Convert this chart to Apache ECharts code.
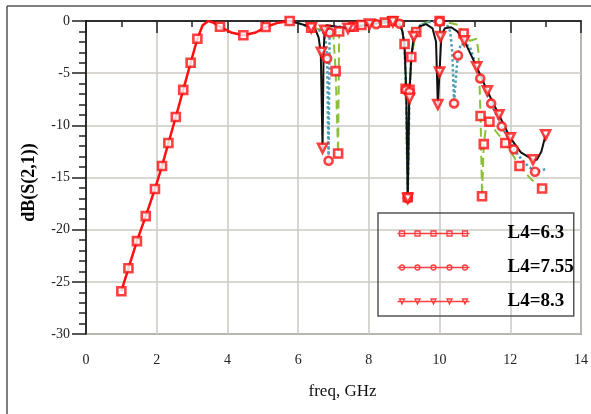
<!DOCTYPE html>
<html>
<head>
<meta charset="utf-8">
<script src="https://cdn.jsdelivr.net/npm/echarts@6/dist/echarts.min.js"></script>
<style>
    html, body { margin: 0; padding: 0; background: #fff; }
    #chart { width: 591px; height: 414px; }
</style>
</head>
<body>
<div id="chart"></div>
<script>
// shared passband part (1 - 5.76 GHz)
var commonCurve = [[1.0, -25.9], [1.2, -23.7], [1.44, -21.1], [1.69, -18.7], [1.95, -16.1], [2.15, -13.9],
    [2.33, -11.7], [2.54, -9.2], [2.75, -6.6], [2.96, -4.0], [3.15, -1.7], [3.3, -0.4], [3.46, 0], [3.6, -0.15],
    [3.79, -0.55], [4.1, -1.1], [4.45, -1.37], [4.8, -1.1], [5.08, -0.58], [5.4, -0.2], [5.76, 0]];
var commonMarks = [[1.0, -25.9], [1.2, -23.7], [1.44, -21.1], [1.69, -18.7], [1.95, -16.1], [2.15, -13.9],
    [2.33, -11.7], [2.54, -9.2], [2.75, -6.6], [2.96, -4.0], [3.15, -1.7], [3.79, -0.55], [4.45, -1.37],
    [5.08, -0.58], [5.76, 0]];

// L4 = 6.3 (green dashed, squares)
var curve63 = [[5.76, 0], [6.0, -0.2], [6.37, -0.65], [6.6, -0.8], [6.9, -1.0], [7.0, -1.5], [7.06, -4.8],
    [7.13, -12.7], [7.16, -1.0], [7.25, -0.6], [7.57, -0.55], [7.79, -0.38], [8.45, -0.16], [8.68, 0],
    [8.87, -0.3], [8.95, -1.0], [9.01, -2.2], [9.04, -6.5], [9.1, -16.9], [9.15, -6.8], [9.2, -3.45],
    [9.34, -1.05], [9.5, -0.3], [9.75, 0], [10.0, 0], [10.3, -0.2], [10.56, -0.4], [10.68, -1.2],
    [10.85, -1.9], [11.05, -1.7], [11.1, -3.0], [11.16, -9.1], [11.2, -16.8], [11.25, -11.8], [11.32, -10.0],
    [11.41, -9.65], [11.6, -10.6], [11.86, -11.7], [12.26, -13.9], [12.6, -15.2], [12.9, -16.05]];
var marks63 = [[6.37, -0.65], [7.06, -4.8], [7.13, -12.7], [7.16, -1.0], [7.57, -0.55], [7.79, -0.38],
    [8.45, -0.16], [8.68, 0], [9.01, -2.2], [9.04, -6.5], [9.1, -16.9], [9.15, -6.6], [9.2, -3.45],
    [9.34, -1.05], [10.0, 0], [10.68, -1.2], [11.16, -9.1], [11.2, -16.8], [11.25, -11.8], [11.41, -9.65],
    [11.86, -11.7], [12.26, -13.9], [12.9, -16.05]];

// L4 = 7.55 (blue dotted, circles)
var curve755 = [[5.76, 0], [6.0, -0.2], [6.37, -0.65], [6.55, -0.85], [6.7, -1.0], [6.78, -2.0], [6.82, -3.6],
    [6.86, -13.6], [6.89, -1.1], [6.95, -0.6], [7.2, -0.55], [7.6, -0.5], [8.2, -0.22], [8.6, -0.1],
    [8.87, -0.26], [8.95, -1.0], [9.01, -2.3], [9.05, -6.6], [9.1, -17.0], [9.15, -6.8], [9.2, -3.4],
    [9.3, -1.2], [9.45, -0.4], [9.7, -0.1], [10.0, -0.05], [10.2, -0.3], [10.3, -1.0], [10.36, -3.0],
    [10.41, -7.9], [10.47, -5.0], [10.52, -3.3], [10.6, -2.2], [10.85, -2.4], [11.15, -5.5], [11.46, -7.9],
    [11.76, -10.1], [12.1, -12.3], [12.4, -13.6], [12.7, -14.45], [13.0, -14.2]];
var marks755 = [[6.82, -3.6], [6.86, -13.4], [6.89, -1.1], [7.5, -0.55], [8.21, -0.3], [8.87, -0.26],
    [9.05, -6.6], [9.1, -17.0], [9.15, -6.8], [10.0, -0.05], [10.41, -7.9], [10.52, -3.3], [11.15, -5.5],
    [11.46, -7.9], [11.76, -10.1], [12.1, -12.3], [12.7, -14.45]];

// L4 = 8.3 (black solid, triangles)
var curve83 = [[5.76, 0], [6.0, -0.2], [6.2, -0.4], [6.37, -0.65], [6.5, -0.9], [6.58, -1.6], [6.64, -3.0],
    [6.69, -12.3], [6.72, -3.0], [6.75, -0.9], [6.8, -0.4], [7.0, -0.5], [7.4, -0.7], [7.8, -0.45],
    [8.2, -0.25], [8.6, -0.07], [8.87, -0.3], [8.95, -1.0], [9.01, -2.5], [9.06, -6.8], [9.1, -17.2],
    [9.14, -7.4], [9.2, -3.5], [9.27, -1.5], [9.34, -1.0], [9.45, -0.5], [9.62, -0.3], [9.8, -0.7],
    [9.9, -2.0], [9.95, -8.0], [10.0, -4.9], [10.05, -1.4], [10.15, -0.7], [10.33, -0.6], [10.5, -1.0],
    [10.7, -1.9], [11.05, -4.4], [11.35, -6.7], [11.68, -9.0], [12.0, -11.2], [12.3, -12.6], [12.64, -13.3],
    [12.75, -13.3], [12.88, -12.5], [13.0, -10.9]];
var marks83 = [[6.37, -0.65], [6.66, -3.0], [6.69, -12.2], [6.75, -0.9], [7.41, -0.7], [8.02, -0.3],
    [8.68, -0.07], [9.1, -17.0], [9.15, -7.4], [9.27, -1.5], [9.95, -8.0], [10.0, -4.9], [10.03, -1.5],
    [10.7, -1.9], [11.05, -4.4], [11.35, -6.7], [11.68, -9.0], [12.0, -11.2], [12.64, -13.3], [13.0, -10.9]];

var legendNames = ['L4=6.3', 'L4=7.55', 'L4=8.3'];

var serif = '"Liberation Serif", "DejaVu Serif", serif';
var red = '#ff1010';

// legend icons: a line with five hollow markers
var iconSquares = 'path://M0 3H72M2 0.5h5v5h-5zM17.5 0.5h5v5h-5zM33.5 0.5h5v5h-5zM49.5 0.5h5v5h-5zM65 0.5h5v5h-5z';
var iconCircles = 'path://M0 3H72M2 3a2.5 2.5 0 1 0 5 0a2.5 2.5 0 1 0 -5 0zM17.5 3a2.5 2.5 0 1 0 5 0a2.5 2.5 0 1 0 -5 0z' +
    'M33.5 3a2.5 2.5 0 1 0 5 0a2.5 2.5 0 1 0 -5 0zM49.5 3a2.5 2.5 0 1 0 5 0a2.5 2.5 0 1 0 -5 0zM65 3a2.5 2.5 0 1 0 5 0a2.5 2.5 0 1 0 -5 0z';
var iconTriangles = 'path://M0 3H72M2 0.5h5l-2.5 5zM17.5 0.5h5l-2.5 5zM33.5 0.5h5l-2.5 5zM49.5 0.5h5l-2.5 5zM65 0.5h5l-2.5 5z';

function markSeries(name, data, symbol, size, rotate) {
    return {
        name: name,
        type: 'scatter',
        data: data,
        symbol: symbol,
        symbolSize: size,
        symbolRotate: rotate || 0,
        z: 5,
        itemStyle: {
            color: '#fff',
            borderColor: red,
            borderWidth: 2.6
        }
    };
}

function lineSeries(name, data, color, width, type, z) {
    return {
        name: name,
        type: 'line',
        data: data,
        showSymbol: false,
        z: z,
        lineStyle: {
            color: color,
            width: width,
            type: type
        }
    };
}

var myChart = echarts.init(document.getElementById('chart'));
var option = {
    animation: false,
    backgroundColor: '#fff',
    grid: {
        left: 86,
        right: 9,
        top: 21,
        bottom: 80,
        show: true,
        borderColor: '#555',
        borderWidth: 1.5
    },
    legend: {
        orient: 'vertical',
        left: 378,
        top: 213,
        padding: [11, 0, 5, 17],
        itemGap: 15,
        itemWidth: 72,
        itemHeight: 6,
        selectedMode: false,
        borderColor: '#555',
        borderWidth: 1.5,
        textStyle: {
            fontFamily: serif,
            fontWeight: 'bold',
            fontSize: 19,
            color: '#000',
            padding: [0, 0, 0, 33]
        },
        data: [
            { name: legendNames[0], icon: iconSquares, itemStyle: { color: 'none', borderColor: red, borderWidth: 1.3 } },
            { name: legendNames[1], icon: iconCircles, itemStyle: { color: 'none', borderColor: red, borderWidth: 1.3 } },
            { name: legendNames[2], icon: iconTriangles, itemStyle: { color: 'none', borderColor: red, borderWidth: 1.3 } }
        ]
    },
    graphic: [
        { type: 'line', shape: { x1: 7, y1: 6, x2: 7, y2: 414 }, style: { stroke: '#555', lineWidth: 1.5 } },
        { type: 'line', shape: { x1: 7, y1: 6, x2: 591, y2: 6 }, style: { stroke: '#555', lineWidth: 1.5 } }
    ],
    xAxis: {
        type: 'value',
        min: 0,
        max: 14,
        interval: 2,
        name: 'freq, GHz',
        nameLocation: 'middle',
        nameGap: 49,
        nameTextStyle: {
            fontFamily: serif,
            fontSize: 17,
            color: '#111',
            padding: [0, 0, 0, 18]
        },
        axisLine: { lineStyle: { color: '#000', width: 1.5 } },
        axisTick: { length: 12, lineStyle: { color: '#222', width: 1.5 } },
        minorTick: { show: true, splitNumber: 2, length: 6, lineStyle: { color: '#222', width: 1.5 } },
        axisLabel: { fontFamily: serif, fontSize: 14, color: '#222', margin: 19 },
        splitLine: { lineStyle: { color: '#cdc9c2', width: 1.5 } }
    },
    yAxis: {
        type: 'value',
        min: -30,
        max: 0,
        interval: 5,
        name: 'dB(S(2,1))',
        nameLocation: 'middle',
        nameGap: 48,
        nameRotate: 90,
        nameTextStyle: {
            fontFamily: serif,
            fontSize: 18,
            fontWeight: 'bold',
            color: '#000',
            padding: [0, 10, 0, 0]
        },
        axisLine: { show: true, lineStyle: { color: '#000', width: 1.5 } },
        axisTick: { show: true, length: 14, lineStyle: { color: '#222', width: 1.5 } },
        minorTick: { show: true, splitNumber: 5, length: 7, lineStyle: { color: '#222', width: 1.5 } },
        axisLabel: { fontFamily: serif, fontSize: 14, color: '#222', margin: 16 },
        splitLine: { lineStyle: { color: '#cdc9c2', width: 1.5 } }
    },
    series: [
        lineSeries('g63', curve63, '#8dbf3c', 2, [9, 5], 2),
        lineSeries('g755', curve755, '#4a9db3', 2.5, [2.5, 2.5], 2),
        lineSeries('g83', curve83, '#111', 2, 'solid', 3),
        lineSeries('common', commonCurve, red, 2.5, 'solid', 4),
        markSeries('commonMarks', commonMarks, 'rect', 8),
        markSeries(legendNames[0], marks63, 'rect', 8),
        markSeries(legendNames[1], marks755, 'circle', 8),
        markSeries(legendNames[2], marks83, 'triangle', 9, 180)
    ]
};
myChart.setOption(option);
window.addEventListener('resize', function() {
    myChart.resize();
});
</script>
</body>
</html>
